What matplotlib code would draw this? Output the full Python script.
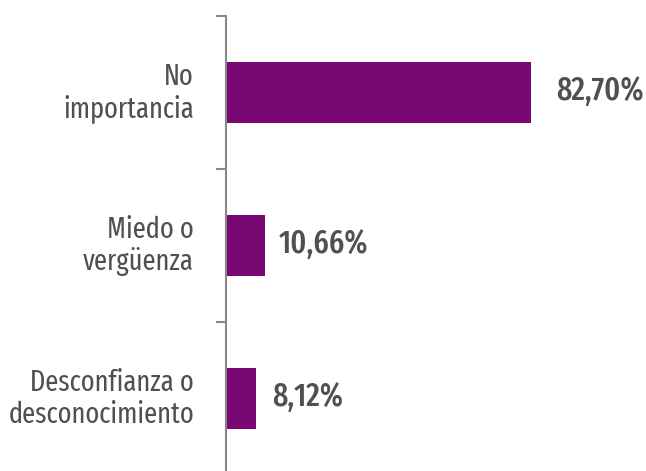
import matplotlib
matplotlib.use("Agg")
import matplotlib.pyplot as plt

categories = ["No\nimportancia", "Miedo o\nvergüenza", "Desconfianza o\ndesconocimiento"]
values = [82.70, 10.66, 8.12]
value_labels = ["82,70%", "10,66%", "8,12%"]

plt.rcParams['font.family'] = ["Fira Sans Extra Condensed", 'DejaVu Sans']

W, H = 646, 471
fig = plt.figure(figsize=(W/100, H/100), dpi=100)
x0 = 226 / W
x1 = 646 / W
y_top = 16
y_bot = 475
ax = fig.add_axes([x0, (H - y_bot) / H, x1 - x0, (y_bot - y_top) / H])
ppu = 305 / 82.70
ax.set_xlim(0, (646 - 226) / ppu)
n = len(categories)
ax.set_ylim(n - 0.5, -0.5)
ypos = list(range(n))
ax.barh(ypos, values, height=0.4, color="#7a0874")

text_color = "#505050"
offsets = [25, 13, 16]
for y, v, lab, off in zip(ypos, values, value_labels, offsets):
    ax.annotate(lab, (v, y), xytext=(off, 1), textcoords="offset pixels",
                ha="left", va="center", fontsize=23.3, color=text_color,
                fontweight="medium")

for y, c in zip(ypos, categories):
    ax.text(-32 / ppu, y, c, ha="right", va="center", fontsize=20.7,
            color=text_color, linespacing=1.15)

for s in ["top", "right", "bottom"]:
    ax.spines[s].set_visible(False)
ax.spines["left"].set_color("#888888")
ax.spines["left"].set_linewidth(1.5)
ax.set_xticks([])
ax.set_yticks([i - 0.5 for i in range(n)])
ax.set_yticklabels([])
ax.tick_params(axis="y", length=7, width=1.5, color="#888888")

fig.savefig("out.png", dpi=100)
